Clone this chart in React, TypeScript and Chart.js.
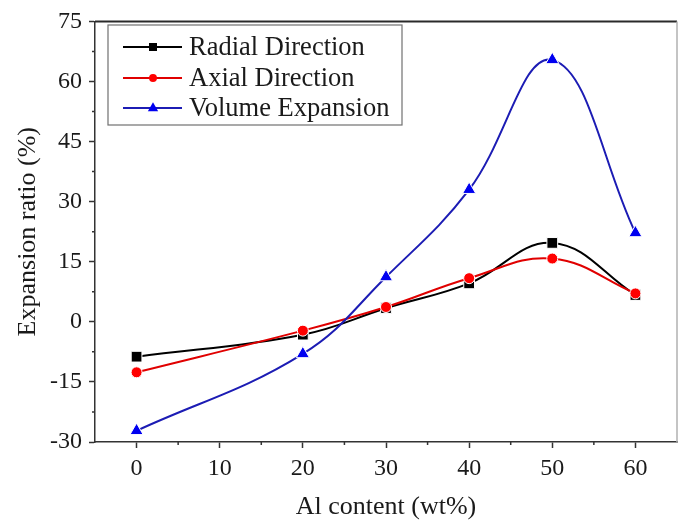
import React, { useEffect, useRef } from "react";
import { Chart, registerables } from "chart.js";
Chart.register(...registerables);

const xValues = [0, 20, 30, 40, 50, 60];
const radial = [-8.7, -3.2, 3.4, 9.6, 19.7, 6.7];
const axial = [-12.6, -2.2, 3.7, 10.9, 15.8, 7.1];
const volume = [-27.2, -8.0, 11.2, 33.0, 65.4, 22.2];
const seriesNames = ["Radial Direction", "Axial Direction", "Volume Expansion"];
const xTicks = [0, 10, 20, 30, 40, 50, 60];
const xMinorTicks = [-5, 5, 15, 25, 35, 45, 55, 65];
const yTicks = [-30, -15, 0, 15, 30, 45, 60, 75];
const yMinorTicks = [-22.5, -7.5, 7.5, 22.5, 37.5, 52.5, 67.5];
const xTitle = "Al content (wt%)";
const yTitle = "Expansion ratio (%)";

const FONT = "'Liberation Serif', 'Times New Roman', serif";
const TEXT = "#1a1a1a";
const AXIS = "#333";

const lineColors = ["#000000", "#e00000", "#1c1cb4"];
const markerColors = ["#000000", "#ff0000", "#0000f0"];
const markerStyles = ["rect", "circle", "triangle"];
const markerRadius = [7.6, 5.5, 7.6];
const drawOrder = [3, 2, 1];

function drawMarker(ctx: CanvasRenderingContext2D, style: string, x: number, y: number, r: number) {
  ctx.beginPath();
  if (style === "rect") {
    ctx.rect(x - r * 0.62, y - r * 0.62, r * 1.24, r * 1.24);
  } else if (style === "circle") {
    ctx.arc(x, y, r * 0.85, 0, Math.PI * 2);
  } else {
    ctx.moveTo(x, y - r * 0.9);
    ctx.lineTo(x + r * 0.8, y + r * 0.5);
    ctx.lineTo(x - r * 0.8, y + r * 0.5);
    ctx.closePath();
  }
  ctx.fill();
}

const decorPlugin = {
  id: "decor",
  afterDraw(chart: any) {
    const { ctx, chartArea, scales } = chart;
    const { left, right, top, bottom } = chartArea;
    ctx.save();
    ctx.strokeStyle = "#2a2a2a";
    ctx.lineWidth = 2;
    ctx.beginPath();
    ctx.moveTo(left, top);
    ctx.lineTo(right, top);
    ctx.stroke();
    ctx.strokeStyle = "#b0b0b0";
    ctx.lineWidth = 1.5;
    ctx.beginPath();
    ctx.moveTo(right, top);
    ctx.lineTo(right, bottom);
    ctx.stroke();
    ctx.strokeStyle = AXIS;
    ctx.lineWidth = 1.5;
    ctx.beginPath();
    xMinorTicks.forEach((v) => {
      const px = scales.x.getPixelForValue(v);
      if (px > left + 1 && px < right - 1) {
        ctx.moveTo(px, bottom);
        ctx.lineTo(px, bottom + 3);
      }
    });
    yMinorTicks.forEach((v) => {
      const py = scales.y.getPixelForValue(v);
      ctx.moveTo(left, py);
      ctx.lineTo(left - 3, py);
    });
    ctx.stroke();

    ctx.fillStyle = TEXT;
    ctx.font = `26px ${FONT}`;
    ctx.textAlign = "center";
    ctx.textBaseline = "middle";
    ctx.fillText(xTitle, (left + right) / 2, 507);
    ctx.save();
    ctx.translate(28, (top + bottom) / 2);
    ctx.rotate(-Math.PI / 2);
    ctx.fillText(yTitle, 0, 0);
    ctx.restore();

    const bx = 108, by = 25, bw = 294, bh = 100;
    ctx.fillStyle = "#ffffff";
    ctx.fillRect(bx, by, bw, bh);
    ctx.strokeStyle = "#707070";
    ctx.lineWidth = 1.2;
    ctx.strokeRect(bx, by, bw, bh);
    const rowsY = [47, 78, 108];
    chart.data.datasets.forEach((ds: any, i: number) => {
      const y = rowsY[i];
      ctx.strokeStyle = lineColors[i];
      ctx.lineWidth = 2;
      ctx.beginPath();
      ctx.moveTo(123, y);
      ctx.lineTo(182, y);
      ctx.stroke();
      ctx.fillStyle = markerColors[i];
      drawMarker(ctx, markerStyles[i], 153, y, markerRadius[i] * 0.85);
      ctx.fillStyle = TEXT;
      ctx.font = `26.5px ${FONT}`;
      ctx.textAlign = "left";
      ctx.textBaseline = "middle";
      ctx.fillText(ds.label, 189, y + 1);
    });
    ctx.restore();
  },
};

export default function App() {
  const ref = useRef<HTMLCanvasElement | null>(null);
  useEffect(() => {
    if (!ref.current) return;
    const series = [radial, axial, volume];
    const chart = new Chart(ref.current, {
      type: "line",
      data: {
        datasets: series.map((vals, i) => ({
          label: seriesNames[i],
          data: xValues.map((x, j) => ({ x, y: vals[j] })),
          order: drawOrder[i],
          borderColor: lineColors[i],
          backgroundColor: markerColors[i],
          pointBackgroundColor: markerColors[i],
          pointBorderColor: "#ffffff",
          pointBorderWidth: 1,
          borderWidth: 2,
          pointStyle: markerStyles[i] as any,
          pointRadius: markerRadius[i],
          tension: 0.4,
          fill: false,
        })),
      },
      options: {
        animation: false,
        responsive: false,
        layout: { autoPadding: false, padding: { left: 0, right: 3, top: 17, bottom: 0 } },
        plugins: { legend: { display: false }, tooltip: { enabled: false } },
        scales: {
          x: {
            type: "linear",
            min: -5,
            max: 65,
            afterBuildTicks: (s: any) => {
              s.ticks = xTicks.map((v) => ({ value: v }));
            },
            afterFit: (s: any) => {
              s.height = 84;
            },
            grid: { drawOnChartArea: false, tickLength: 6, tickColor: AXIS, tickWidth: 1.5 },
            border: { color: AXIS, width: 1.5 },
            ticks: {
              font: { family: FONT, size: 24 },
              color: TEXT,
              padding: 6,
              maxRotation: 0,
              autoSkip: false,
            },
          },
          y: {
            type: "linear",
            min: -30,
            max: 75,
            afterBuildTicks: (s: any) => {
              s.ticks = yTicks.map((v) => ({ value: v }));
            },
            afterFit: (s: any) => {
              s.width = 95;
            },
            grid: { drawOnChartArea: false, tickLength: 6, tickColor: AXIS, tickWidth: 1.5 },
            border: { color: AXIS, width: 1.5 },
            ticks: {
              font: { family: FONT, size: 24 },
              color: TEXT,
              padding: 7,
              autoSkip: false,
            },
          },
        },
      },
      plugins: [decorPlugin],
    });
    return () => chart.destroy();
  }, []);
  return (
    <div style={{ position: "absolute", left: 0, top: 0, width: 680, height: 526, background: "#fff" }}>
      <canvas ref={ref} width={680} height={526} />
    </div>
  );
}
